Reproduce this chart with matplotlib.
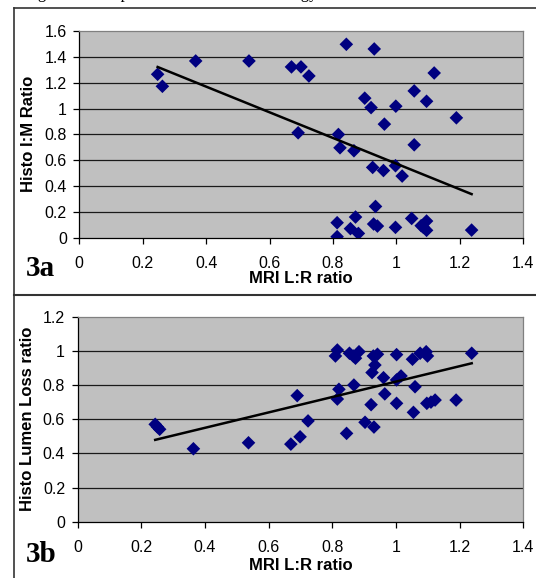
import matplotlib
matplotlib.use("Agg")
import matplotlib.pyplot as plt
import numpy as np
from matplotlib.lines import Line2D
from matplotlib.ticker import FuncFormatter

# ---------------- data ----------------
mri_a = [0.247, 0.262, 0.367, 0.535, 0.669, 0.699, 0.724, 0.690, 0.842, 0.930,
         1.119, 1.056, 1.095, 0.900, 0.920, 0.998, 1.189, 0.962, 0.817, 0.822,
         0.866, 1.056, 0.925, 0.959, 0.997, 1.018, 0.934, 0.871, 0.813, 0.855,
         0.880, 0.813, 0.928, 0.940, 0.997, 1.048, 1.078, 1.095, 1.085, 1.095,
         1.237]
histo_im = [1.265, 1.172, 1.368, 1.368, 1.322, 1.322, 1.252, 0.812, 1.497, 1.461,
            1.275, 1.136, 1.056, 1.080, 1.007, 1.018, 0.928, 0.879, 0.799, 0.696,
            0.673, 0.719, 0.544, 0.520, 0.557, 0.477, 0.242, 0.160, 0.116, 0.070,
            0.033, 0.008, 0.106, 0.090, 0.080, 0.149, 0.093, 0.129, 0.080, 0.057,
            0.059]
trend_a = (-0.994, 1.567)  # slope, intercept

mri_b = [0.244, 0.251, 0.258, 0.364, 0.537, 0.670, 0.699, 0.690, 0.724,
         0.816, 0.810, 0.854, 0.866, 0.884, 0.873, 0.929, 0.942, 0.934, 0.925,
         1.002, 1.052, 1.076, 1.095, 1.099, 1.238,
         0.961, 1.002, 1.016, 1.060, 0.868, 0.821, 0.816, 0.965, 0.922, 1.002,
         1.055, 1.097, 1.110, 1.123, 1.189, 0.903, 0.931, 0.845]
histo_ll = [0.570, 0.555, 0.541, 0.427, 0.462, 0.454, 0.497, 0.738, 0.590,
            1.005, 0.970, 0.986, 0.970, 0.995, 0.957, 0.970, 0.980, 0.917, 0.873,
            0.978, 0.951, 0.986, 0.995, 0.970, 0.986,
            0.843, 0.830, 0.853, 0.790, 0.800, 0.775, 0.718, 0.748, 0.685, 0.693,
            0.640, 0.693, 0.700, 0.712, 0.712, 0.582, 0.554, 0.517]
trend_b = (0.451, 0.369)

x_ticks = [0, 0.2, 0.4, 0.6, 0.8, 1.0, 1.2, 1.4]
y_ticks_a = [0, 0.2, 0.4, 0.6, 0.8, 1.0, 1.2, 1.4, 1.6]
y_ticks_b = [0, 0.2, 0.4, 0.6, 0.8, 1.0, 1.2]

x_label = "MRI L:R ratio"
y_label_a = "Histo I:M Ratio"
y_label_b = "Histo Lumen Loss ratio"

# ---------------- figure ----------------
W, H = 536, 578
fig = plt.figure(figsize=(W / 100, H / 100), dpi=100)
fig.patch.set_facecolor("white")
plt.rcParams["font.family"] = ["Liberation Sans", "DejaVu Sans"]

def px_axes(l, r, t, b):
    return fig.add_axes([l / W, 1 - b / H, (r - l) / W, (b - t) / H])

fmt = FuncFormatter(lambda v, p: "%g" % round(v, 2))

def style(ax, x, y, trend, yticks, ylabel, ylab_x, xlab_y, tag, tag_y):
    ax.set_facecolor("#C0C0C0")
    ax.set_xlim(0, 1.4)
    ax.set_ylim(0, yticks[-1])
    ax.set_xticks(x_ticks)
    ax.set_yticks(yticks)
    ax.xaxis.set_major_formatter(fmt)
    ax.yaxis.set_major_formatter(fmt)
    for yt in yticks[1:-1]:
        ax.axhline(yt, color="#1a1a1a", lw=0.9, zorder=1)
    ax.scatter(x, y, marker="D", s=48, color="#000080", edgecolors="none", zorder=3)
    xs = np.array([min(x), max(x)])
    ax.plot(xs, trend[0] * xs + trend[1], color="black", lw=1.8, zorder=4)
    ax.spines["top"].set_color("#808080")
    ax.spines["right"].set_color("#808080")
    ax.spines["left"].set_color("#000000")
    ax.spines["bottom"].set_color("#000000")
    for s in ax.spines.values():
        s.set_linewidth(0.9)
    ax.tick_params(axis="x", direction="out", length=4, width=0.9, pad=9,
                   labelsize=11.5)
    ax.tick_params(axis="y", direction="out", length=4, width=0.9, pad=5,
                   labelsize=11.5)
    ax.set_ylabel(ylabel, fontsize=12, fontweight="bold", va="center")
    ax.yaxis.set_label_coords(ylab_x, 0.5)
    ax.set_xlabel(x_label, fontsize=12, fontweight="bold", va="center")
    ax.xaxis.set_label_coords(0.5, xlab_y)
    fig.text(26 / W, 1 - tag_y / H, tag, fontsize=21, fontweight="bold",
             family="Liberation Serif", va="center", ha="left")

ax1 = px_axes(79.3, 523.3, 31, 237.7)
style(ax1, mri_a, histo_im, trend_a, y_ticks_a, y_label_a,
      (28 - 79.3) / 444, -0.195, "3a", 268)

ax2 = px_axes(77.5, 523.3, 316.7, 521.7)
style(ax2, mri_b, histo_ll, trend_b, y_ticks_b, y_label_b,
      (28 - 77.5) / 445.8, -0.216, "3b", 554)

# outer frame lines
fig.add_artist(Line2D([13.5 / W, 13.5 / W], [1 - 8 / H, 0], color="#333333", lw=1.2))
fig.add_artist(Line2D([13.5 / W, 1], [1 - 8 / H, 1 - 8 / H], color="#333333", lw=1.2))
fig.add_artist(Line2D([13.5 / W, 1], [1 - 295 / H, 1 - 295 / H], color="#333333", lw=1.5))

# caption above the crop; only its lowest strokes reach into the picture
fig.text(24 / W, 1 + 6 / H, "Figure 3. Comparison of MRI and histology", fontsize=12,
         family="Liberation Serif", va="center", ha="left")

fig.savefig("out.png", dpi=100)
